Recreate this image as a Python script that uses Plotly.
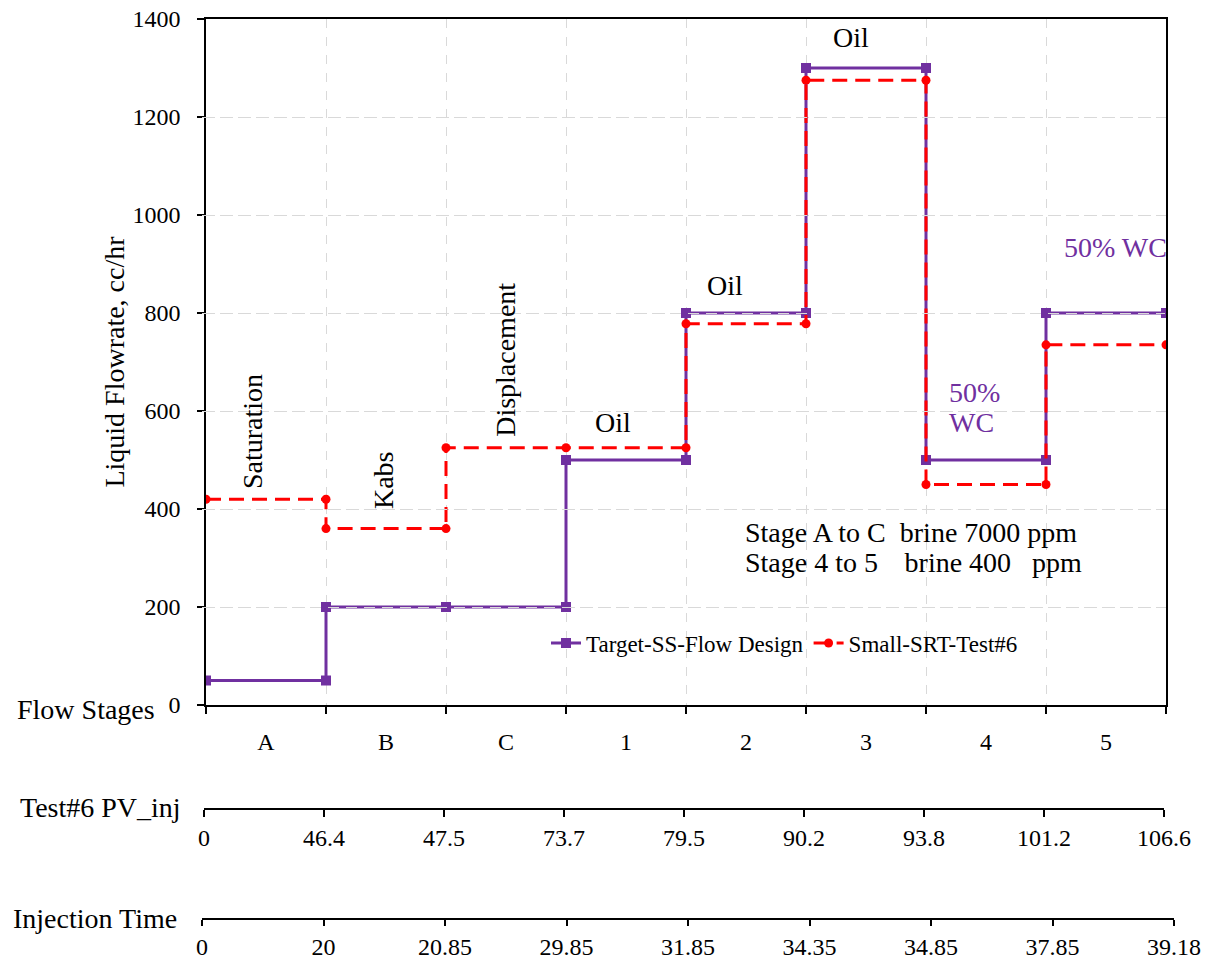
import plotly.graph_objects as go

# ---------------- data ----------------
stage_labels = ["A", "B", "C", "1", "2", "3", "4", "5"]
boundary_idx = [0, 1, 2, 3, 4, 5, 6, 7, 8]
stage_centers = [0.5, 1.5, 2.5, 3.5, 4.5, 5.5, 6.5, 7.5]
pv_inj_labels = ["0", "46.4", "47.5", "73.7", "79.5", "90.2", "93.8", "101.2", "106.6"]
inj_time_labels = ["0", "20", "20.85", "29.85", "31.85", "34.35", "34.85", "37.85", "39.18"]

target_x = [0, 1, 1, 2, 3, 3, 4, 4, 5, 5, 6, 6, 7, 7, 8]
target_y = [50, 50, 200, 200, 200, 500, 500, 800, 800, 1300, 1300, 500, 500, 800, 800]
test_x = [0, 1, 1, 2, 2, 3, 4, 4, 5, 5, 6, 6, 7, 7, 8]
test_y = [420, 420, 360, 360, 525, 525, 525, 778, 778, 1275, 1275, 450, 450, 735, 735]

PURPLE = "#7030A0"
RED = "#FF0000"
GRID = "#D9D9D9"
FONT = "Liberation Serif, Times New Roman, serif"

W, H = 1206, 963
ML, MR, MT, MB = 200, 30, 19, 5
PW = W - ML - MR
PH = H - MT - MB


def px_x(p):
    return (p - ML) / PW


def px_y(p):
    return (H - MB - p) / PH


fig = go.Figure()
fig.add_trace(go.Scatter(
    x=target_x, y=target_y, mode="lines+markers", name="Target-SS-Flow Design",
    line=dict(color=PURPLE, width=3),
    marker=dict(symbol="square", size=10, color=PURPLE),
))
fig.add_trace(go.Scatter(
    x=test_x, y=test_y, mode="lines+markers", name="Small-SRT-Test#6",
    line=dict(color=RED, width=3, dash="15px,8px"),
    marker=dict(symbol="circle", size=9, color=RED),
))
# carriers for the secondary stage-boundary axes
fig.add_trace(go.Scatter(x=boundary_idx, y=[None] * len(boundary_idx), xaxis="x2", yaxis="y",
                         showlegend=False, hoverinfo="skip", mode="lines"))
fig.add_trace(go.Scatter(x=boundary_idx, y=[None] * len(boundary_idx), xaxis="x3", yaxis="y",
                         showlegend=False, hoverinfo="skip", mode="lines"))

y_bottom = px_y(705)

fig.update_layout(
    width=W, height=H,
    margin=dict(l=ML, r=MR, t=MT, b=MB, autoexpand=False),
    paper_bgcolor="white", plot_bgcolor="rgba(0,0,0,0)",
    font=dict(family=FONT, size=24, color="black"),
    showlegend=True,
    legend=dict(orientation="h", x=px_x(546), y=px_y(643), xanchor="left", yanchor="middle",
                bgcolor="rgba(0,0,0,0)", font=dict(size=23), itemwidth=30),
    xaxis=dict(
        domain=[px_x(206), px_x(1166)], range=[0, 8], automargin=False,
        tickmode="array", tickvals=stage_centers, ticktext=stage_labels,
        ticks="", showgrid=False, zeroline=False,
        showline=True, linecolor="black", linewidth=1.5, mirror=True,
        ticklabelstandoff=14,
        minor=dict(tickmode="array", tickvals=boundary_idx, ticks="outside", ticklen=7,
                   tickcolor="black", tickwidth=1.5,
                   showgrid=True, gridcolor=GRID, griddash="dash", gridwidth=1),
    ),
    yaxis=dict(
        domain=[y_bottom, 1], range=[0, 1400], dtick=200, automargin=False,
        ticks="outside", ticklen=7, tickcolor="black", tickwidth=1.5,
        showline=True, linecolor="black", linewidth=1.5, mirror=True,
        showgrid=True, gridcolor=GRID, griddash="dash", gridwidth=1, zeroline=False,
        ticksuffix="\u2002",
        title=dict(text="Liquid Flowrate, cc/hr", font=dict(size=28), standoff=0),
    ),
    xaxis2=dict(
        domain=[px_x(204), px_x(1164)], range=[0, 8], anchor="free", position=px_y(809),
        automargin=False,
        tickmode="array", tickvals=boundary_idx, ticktext=pv_inj_labels,
        ticks="outside", ticklen=7, tickcolor="black", tickwidth=1.5,
        showline=True, linecolor="black", linewidth=1.5,
        showgrid=False, zeroline=False, ticklabelstandoff=0,
    ),
    xaxis3=dict(
        domain=[px_x(202), px_x(1174)], range=[0, 8], anchor="free", position=px_y(919),
        automargin=False,
        tickmode="array", tickvals=boundary_idx, ticktext=inj_time_labels,
        ticks="outside", ticklen=6, tickcolor="black", tickwidth=1.5,
        showline=True, linecolor="black", linewidth=1.5,
        showgrid=False, zeroline=False, ticklabelstandoff=0,
    ),
)

ann = []
# row titles on the left
for txt, ypx, xpx in [("Flow Stages", 709, 15), ("Test#6 PV_inj", 807, 18), ("Injection Time", 918, 11)]:
    ann.append(dict(text=txt, xref="paper", yref="paper", x=px_x(xpx), y=px_y(ypx),
                    xanchor="left", yanchor="middle", showarrow=False, font=dict(size=28)))

# in-plot labels (data coordinates)
NB = "\u00a0"
plot_labels = [
    ("Saturation", 0.383, 559, -90, "black", "center"),
    ("Kabs", 1.475, 459, -90, "black", "center"),
    ("Displacement", 2.49, 704, -90, "black", "center"),
    ("Oil", 3.39, 576, 0, "black", "center"),
    ("Oil", 4.325, 857, 0, "black", "center"),
    ("Oil", 5.375, 1363, 0, "black", "center"),
    ("50% WC", 7.575, 933, 0, PURPLE, "center"),
    ("50%", 6.175, 637, 0, PURPLE, "left"),
    ("WC", 6.175, 576, 0, PURPLE, "left"),
    ("Stage A to C" + NB * 2 + "brine 7000 ppm", 4.475, 353, 0, "black", "left"),
    ("Stage 4 to 5" + NB * 3 + "\u2009" + "brine 400" + NB * 3 + "ppm", 4.475, 290, 0, "black", "left"),
]
for txt, x, y, ang, col, xa in plot_labels:
    ann.append(dict(text=txt, xref="x", yref="y", x=x, y=y, textangle=ang, xanchor=xa,
                    yanchor="middle", showarrow=False, font=dict(size=28, color=col)))

fig.update_layout(annotations=ann)
fig.write_html("out.html")
